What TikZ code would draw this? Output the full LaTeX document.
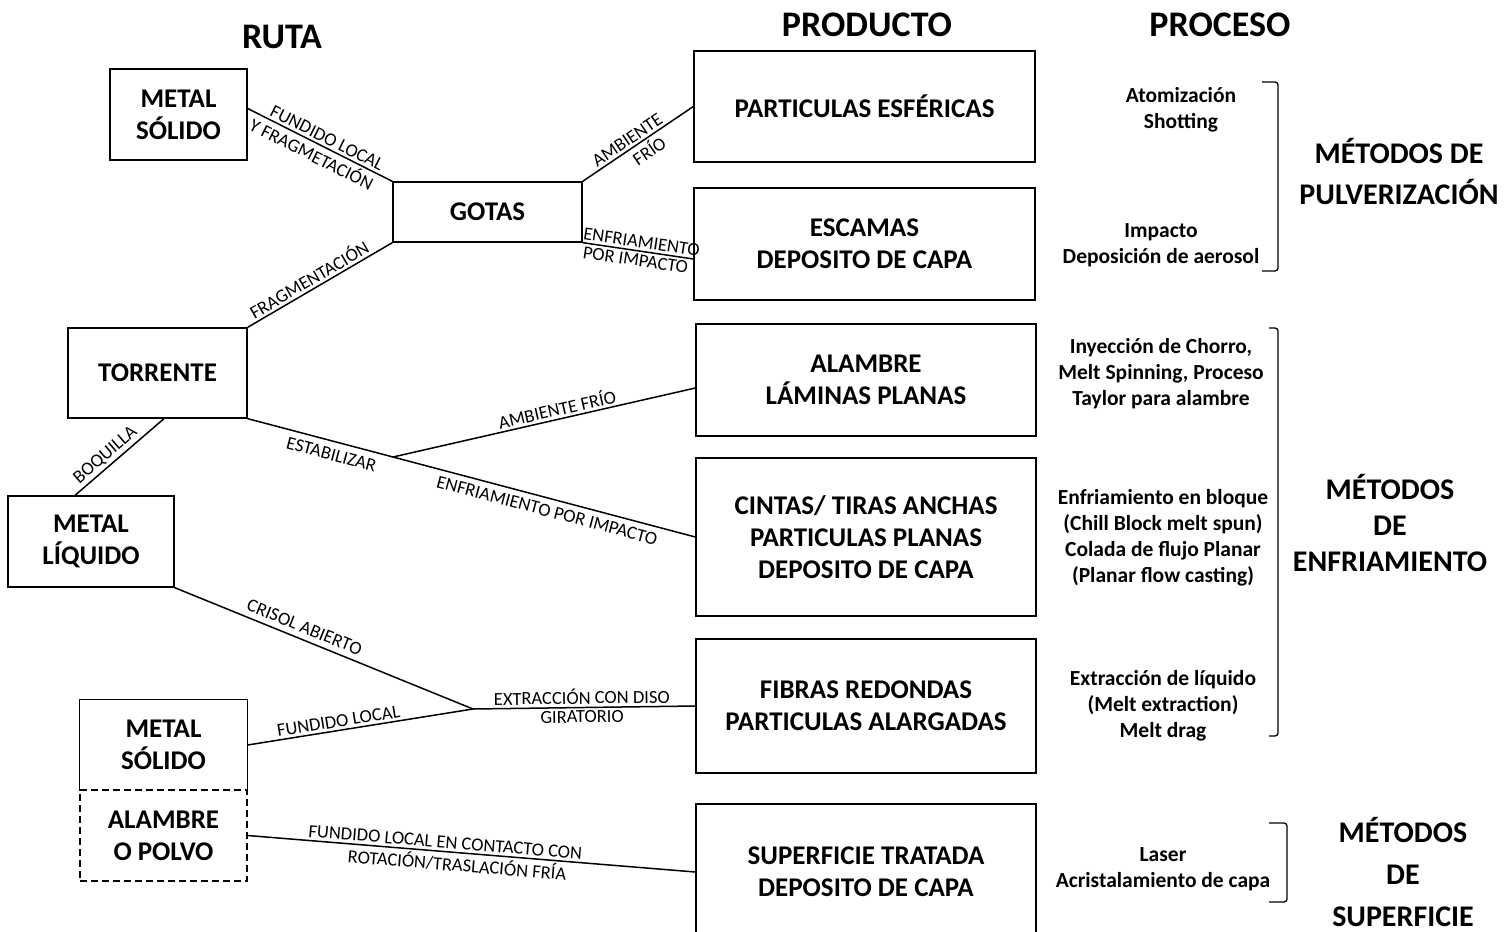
\documentclass[tikz,border=0pt]{standalone}
\usepackage{fontspec}
\setmainfont{Carlito}

\begin{document}
\begin{tikzpicture}[x=1pt, y=-1pt,
	caja/.style={draw, line width=1.3pt, align=center, inner sep=0pt, font=\bfseries\fontsize{27}{32}\selectfont},
	etiqueta/.style={sloped, inner sep=2.5pt, font=\fontsize{18.5}{20}\selectfont},
	proceso/.style={align=center, font=\bfseries\fontsize{21.5}{26}\selectfont},
	metodo/.style={align=center, font=\bfseries\fontsize{30}{36}\selectfont},
	titulo/.style={font=\bfseries\fontsize{36}{40}\selectfont},
	linea/.style={line width=1.5pt},
	llave/.style={line width=1.3pt, rounded corners=3pt}]
	\clip (0,0) rectangle (1511,931);
	\node [titulo] (ruta) at (282,37) {RUTA};
	\node [titulo] (producto) at (867,25) {PRODUCTO};
	\node [titulo] (procesos) at (1220,25) {PROCESO};
	\node [caja, minimum width=137pt, minimum height=91pt] (ms1) at (178.5,114.5) {METAL\\SÓLIDO};
	\node [caja, minimum width=189pt, minimum height=60pt] (gotas) at (487.5,212) {GOTAS};
	\node [caja, minimum width=179pt, minimum height=90pt] (tor) at (157.5,373) {TORRENTE};
	\node [caja, minimum width=166pt, minimum height=91pt] (ml) at (91,541.5) {METAL\\LÍQUIDO};
	\node [caja, draw=none, minimum width=167pt, minimum height=90pt] (ms2) at (163.5,745) {METAL\\SÓLIDO};
	\node [caja, dash pattern=on 7pt off 4pt, minimum width=167pt, minimum height=91pt] (alp) at (163.5,835.5) {ALAMBRE\\O POLVO};
	\draw [line width=1.3pt] (ms2.south west) |- (ms2.north east) -- (ms2.south east);
	\node [caja, minimum width=341pt, minimum height=111pt] (part) at (864.5,106.5) {PARTICULAS ESFÉRICAS};
	\node [caja, minimum width=341pt, minimum height=112pt] (esc) at (864.5,244) {ESCAMAS\\DEPOSITO DE CAPA};
	\node [caja, minimum width=340pt, minimum height=112pt] (alam) at (866,380) {ALAMBRE\\LÁMINAS PLANAS};
	\node [caja, minimum width=340pt, minimum height=158pt] (cint) at (866,537) {CINTAS/ TIRAS ANCHAS\\PARTICULAS PLANAS\\DEPOSITO DE CAPA};
	\node [caja, minimum width=340pt, minimum height=134pt] (fib) at (866,706) {FIBRAS REDONDAS\\PARTICULAS ALARGADAS};
	\node [caja, minimum width=340pt, minimum height=136pt] (sup) at (866,872) {SUPERFICIE TRATADA\\DEPOSITO DE CAPA};
	\coordinate (estab) at (393,457);
	\coordinate (disco) at (473,709);
	\draw [linea] ([yshift=6pt]ms1.east) -- (gotas.north west)
		node [etiqueta, pos=0.52, above] {FUNDIDO LOCAL}
		node [etiqueta, pos=0.48, below] {Y FRAGMETACIÓN};
	\draw [linea] (tor.north east) -- (gotas.south west) node [etiqueta, pos=0.46, above] {FRAGMENTACIÓN};
	\draw [linea] (gotas.north east) -- (part.west)
		node [etiqueta, pos=0.45, above] {AMBIENTE}
		node [etiqueta, pos=0.54, below] {FRÍO};
	\draw [linea] (gotas.south east) -- ([yshift=-15pt]esc.west)
		node [etiqueta, pos=0.52, above] {ENFRIAMIENTO}
		node [etiqueta, pos=0.49, below] {POR IMPACTO};
	\draw [linea] ([xshift=-16pt]ml.north) -- ([xshift=6.5pt]tor.south) node [etiqueta, pos=0.42, above] {BOQUILLA};
	\draw [linea] (tor.south east) -- (estab) node [etiqueta, pos=0.6, below=4pt] {ESTABILIZAR}
		-- (cint.west) node [etiqueta, pos=0.52, below=3pt] {ENFRIAMIENTO POR IMPACTO};
	\draw [linea] (estab) -- ([yshift=-8pt]alam.west) node [etiqueta, pos=0.55, above] {AMBIENTE FRÍO};
	\draw [linea] (ml.south east) -- (disco) node [etiqueta, pos=0.42, above=3pt] {CRISOL ABIERTO}
		-- (fib.west)
		node [etiqueta, pos=0.49, above] {EXTRACCIÓN CON DISO}
		node [etiqueta, pos=0.49, below] {GIRATORIO};
	\draw [linea] (ms2.east) -- (disco) node [etiqueta, pos=0.41, above] {FUNDIDO LOCAL};
	\draw [linea] (alp.east) -- (sup.west)
		node [etiqueta, pos=0.44, above] {FUNDIDO LOCAL EN CONTACTO CON}
		node [etiqueta, pos=0.47, below] {ROTACIÓN/TRASLACIÓN FRÍA};
	\node [proceso] (p1) at (1181,110) {Atomización\\Shotting};
	\node [proceso] (p2) at (1161,245) {Impacto\\Deposición de aerosol};
	\node [proceso] (p3) at (1161,374) {Inyección de Chorro,\\Melt Spinning, Proceso\\Taylor para alambre};
	\node [proceso] (p4) at (1163,538) {Enfriamiento en bloque\\(Chill Block melt spun)\\Colada de flujo Planar\\(Planar flow casting)};
	\node [proceso] (p5) at (1163,706) {Extracción de líquido\\(Melt extraction)\\Melt drag};
	\node [proceso] (p6) at (1163,869) {Laser\\Acristalamiento de capa};
	\draw [llave] (1262,82) -- (1278,82) -- (1278,271) -- (1262,271);
	\draw [llave] (1269,328) -- (1278,328) -- (1278,736) -- (1269,736);
	\draw [llave] (1269,823) -- (1287,823) -- (1287,902) -- (1269,902);
	\node [metodo] (m1) at (1399,172) {MÉTODOS DE\\[5pt]PULVERIZACIÓN};
	\node [metodo] (m2) at (1390,523) {MÉTODOS\\DE\\ENFRIAMIENTO};
	\node [metodo] (m3) at (1403,872) {MÉTODOS\\[6pt]DE\\[6pt]SUPERFICIE};
\end{tikzpicture}
\end{document}
